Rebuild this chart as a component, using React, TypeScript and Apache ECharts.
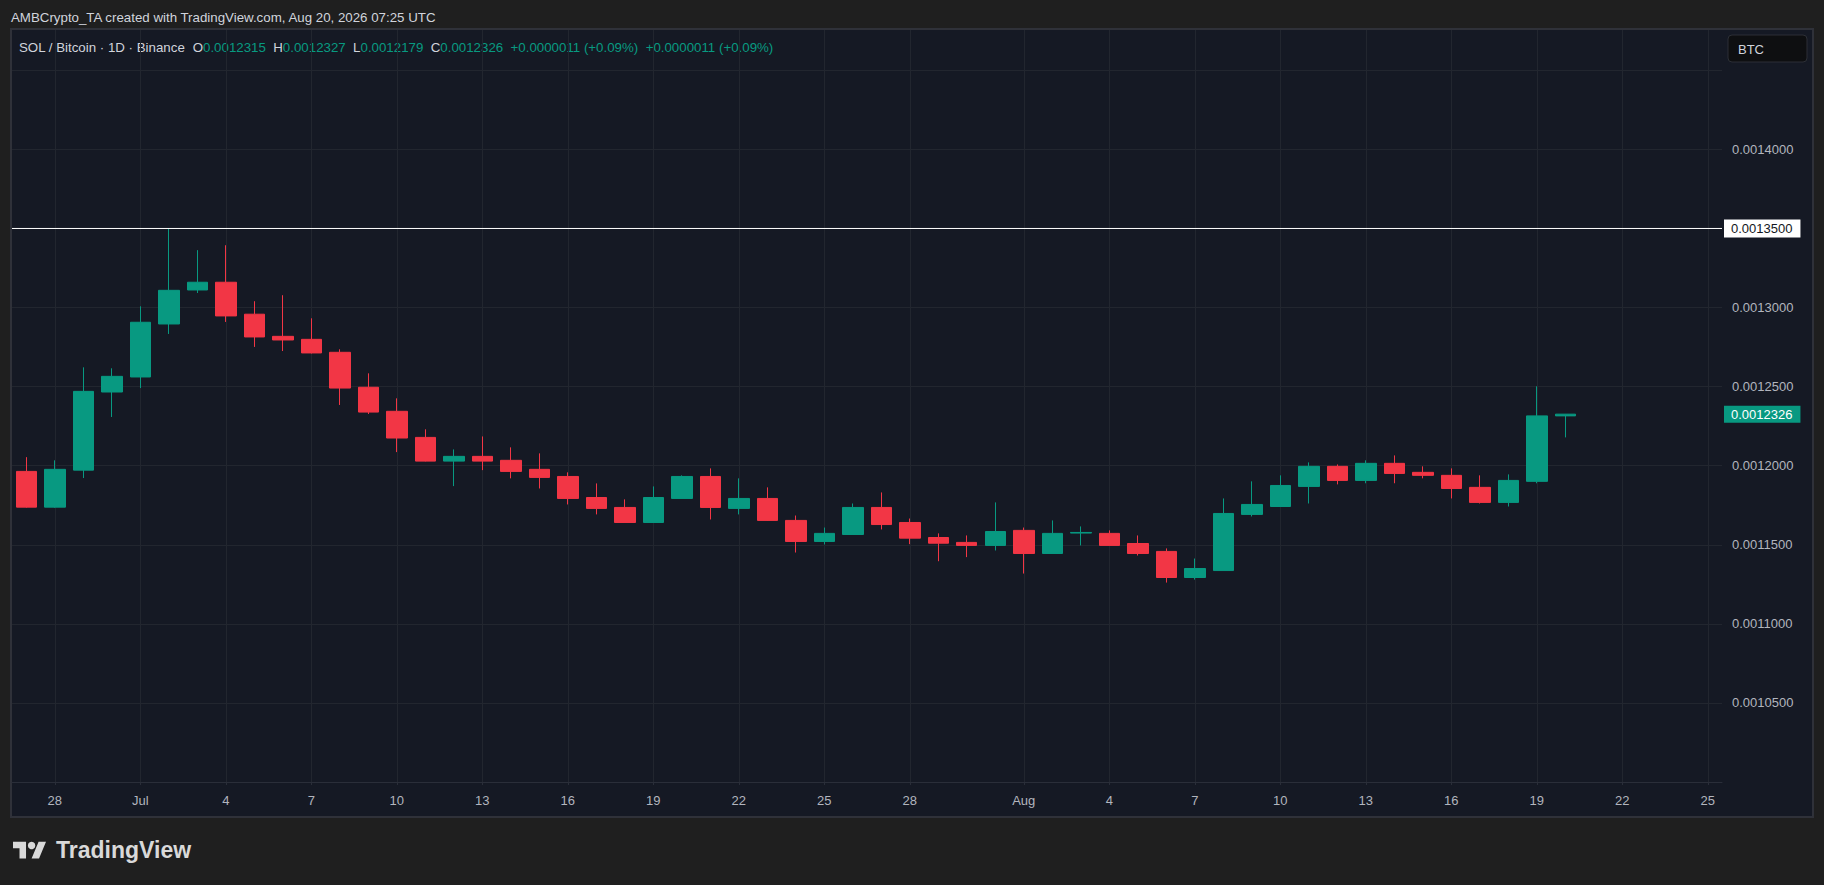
import React, { useEffect, useRef } from "react";
import * as echarts from "echarts";

// ---------- DATA ----------
const dates: string[] = [
  "2026-06-27", "2026-06-28", "2026-06-29", "2026-06-30",
  "2026-07-01", "2026-07-02", "2026-07-03", "2026-07-04", "2026-07-05", "2026-07-06", "2026-07-07",
  "2026-07-08", "2026-07-09", "2026-07-10", "2026-07-11", "2026-07-12", "2026-07-13", "2026-07-14",
  "2026-07-15", "2026-07-16", "2026-07-17", "2026-07-18", "2026-07-19", "2026-07-20", "2026-07-21",
  "2026-07-22", "2026-07-23", "2026-07-24", "2026-07-25", "2026-07-26", "2026-07-27", "2026-07-28",
  "2026-07-29", "2026-07-30", "2026-07-31",
  "2026-08-01", "2026-08-02", "2026-08-03", "2026-08-04", "2026-08-05", "2026-08-06", "2026-08-07",
  "2026-08-08", "2026-08-09", "2026-08-10", "2026-08-11", "2026-08-12", "2026-08-13", "2026-08-14",
  "2026-08-15", "2026-08-16", "2026-08-17", "2026-08-18", "2026-08-19", "2026-08-20", "2026-08-21",
  "2026-08-22", "2026-08-23", "2026-08-24", "2026-08-25",
];

const opens: number[] = [
  0.0011964, 0.0011738, 0.0011972, 0.0012466, 0.0012561, 0.0012896, 0.0013111, 0.001316, 0.0012958, 0.0012818,
  0.0012799, 0.0012717, 0.0012496, 0.0012344, 0.0012179, 0.0012029, 0.0012059, 0.0012034, 0.0011977, 0.0011932,
  0.0011799, 0.0011736, 0.0011641, 0.0011793, 0.0011932, 0.001173, 0.0011793, 0.0011654, 0.0011521, 0.0011565,
  0.0011736, 0.0011641, 0.0011546, 0.0011515, 0.0011496, 0.0011591, 0.0011445, 0.0011574, 0.0011572, 0.0011508,
  0.0011458, 0.0011293, 0.0011337, 0.0011692, 0.0011742, 0.0011869, 0.0011996, 0.0011907, 0.0012015, 0.0011958,
  0.0011939, 0.0011863, 0.0011768, 0.0011901, 0.0012315,
];
const closes: number[] = [
  0.0011738, 0.0011977, 0.001247, 0.0012565, 0.0012907, 0.0013109, 0.001316, 0.0012947, 0.0012814, 0.0012795,
  0.0012713, 0.0012491, 0.0012339, 0.0012175, 0.0012029, 0.0012059, 0.0012029, 0.0011964, 0.0011926, 0.0011793,
  0.001173, 0.0011641, 0.0011799, 0.0011932, 0.0011736, 0.0011793, 0.0011654, 0.0011521, 0.0011572, 0.0011736,
  0.0011628, 0.0011542, 0.001151, 0.0011496, 0.0011584, 0.0011445, 0.0011572, 0.0011578, 0.0011496, 0.0011445,
  0.0011293, 0.001135, 0.0011698, 0.0011755, 0.0011875, 0.0011996, 0.0011907, 0.0012015, 0.0011951, 0.0011939,
  0.0011856, 0.0011768, 0.0011907, 0.0012315, 0.0012326,
];
const lows: number[] = [
  0.0011735, 0.0011734, 0.0011922, 0.0012308, 0.0012491, 0.0012833, 0.0013092, 0.0012909, 0.0012751, 0.0012725,
  0.001271, 0.0012384, 0.0012327, 0.0012086, 0.0012027, 0.0011871, 0.0011972, 0.001192, 0.0011856, 0.0011755,
  0.0011692, 0.001164, 0.001164, 0.0011792, 0.001166, 0.0011692, 0.0011652, 0.0011451, 0.0011502, 0.0011564,
  0.0011597, 0.0011504, 0.0011396, 0.0011422, 0.0011464, 0.0011318, 0.0011444, 0.0011496, 0.0011495, 0.0011432,
  0.0011261, 0.001128, 0.0011336, 0.0011679, 0.0011741, 0.0011761, 0.0011882, 0.0011889, 0.0011889, 0.001192,
  0.0011793, 0.0011761, 0.0011742, 0.0011889, 0.0012179,
];
const highs: number[] = [
  0.0012054, 0.0012034, 0.0012622, 0.0012616, 0.0013008, 0.00135, 0.0013363, 0.0013394, 0.001304, 0.0013078,
  0.0012932, 0.0012736, 0.0012584, 0.0012426, 0.001223, 0.0012103, 0.0012185, 0.0012116, 0.0012078, 0.0011958,
  0.0011888, 0.0011787, 0.0011869, 0.0011939, 0.0011983, 0.001192, 0.0011863, 0.0011685, 0.0011609, 0.0011761,
  0.0011831, 0.0011666, 0.0011572, 0.0011559, 0.0011768, 0.0011609, 0.0011654, 0.0011616, 0.0011591, 0.0011559,
  0.0011477, 0.0011413, 0.0011793, 0.0011901, 0.0011939, 0.0012021, 0.0012008, 0.0012034, 0.0012065, 0.0011996,
  0.0011983, 0.0011939, 0.0011945, 0.0012502, 0.0012327,
];

const priceTickLabels: string[] = [
  "0.0010500", "0.0011000", "0.0011500", "0.0012000", "0.0012500", "0.0013000", "0.0013500", "0.0014000",
];
const resistanceLevel = 0.00135;
const monthNames = ["Jan", "Feb", "Mar", "Apr", "May", "Jun", "Jul", "Aug", "Sep", "Oct", "Nov", "Dec"];
const headerText = "AMBCrypto_TA created with TradingView.com, Aug 20, 2026 07:25 UTC";
const symbolText = "SOL / Bitcoin · 1D · Binance";

// ---------- STYLE ----------
const GREEN = "#089981";
const RED = "#f23645";
const FONT = "'Liberation Sans', Arial, sans-serif";

let logoRegistered = false;
function registerLogo() {
  if (logoRegistered) return;
  echarts.graphic.registerShape(
    "tvlogo",
    echarts.graphic.extendPath("M14 22H7V11H0V4h14v18zM28 22h-8l7.5-18h8L28 22z", {}) as any
  );
  logoRegistered = true;
}

function dayOf(d: string): number {
  return Number(d.slice(8, 10));
}
function isLabelDate(d: string): boolean {
  if (!d || d.charAt(0) === "~") return false;
  const day = dayOf(d);
  return day !== 31 && (day - 1) % 3 === 0;
}
function dateLabel(d: string): string {
  if (!isLabelDate(d)) return "";
  const day = dayOf(d);
  return day === 1 ? monthNames[Number(d.slice(5, 7)) - 1] : String(day);
}

export default function App() {
  const ref = useRef<HTMLDivElement>(null);

  useEffect(() => {
    if (!ref.current) return;
    registerLogo();
    const chart = echarts.init(ref.current, undefined, { renderer: "svg" });

    const candleData = opens.map((o, i) => [o, closes[i], lows[i], highs[i]]);
    // half-step axis so that grid lines / labels fall at candle centres
    const halfAxis: string[] = [];
    for (let k = 0; k <= dates.length * 2; k++) {
      halfAxis.push(k % 2 === 1 ? dates[(k - 1) / 2] : "~" + k);
    }
    const firstCat = halfAxis[0];
    const lastCat = halfAxis[halfAxis.length - 1];
    const n = closes.length;
    const lastO = opens[n - 1];
    const lastH = highs[n - 1];
    const lastL = lows[n - 1];
    const lastC = closes[n - 1];
    const prevC = closes[n - 2];
    const chg = lastC - prevC;
    const chgStr = (chg >= 0 ? "+" : "-") + Math.abs(chg).toFixed(7);
    const pctStr = (chg >= 0 ? "+" : "-") + Math.abs((chg / prevC) * 100).toFixed(2) + "%";
    const f7 = (v: number) => v.toFixed(7);

    const legendStr =
      `{t|${symbolText}}  {t|O}{v|${f7(lastO)}}  {t|H}{v|${f7(lastH)}}  {t|L}{v|${f7(lastL)}}  {t|C}{v|${f7(lastC)}}  ` +
      `{v|${chgStr} (${pctStr})}  {v|${chgStr} (${pctStr})}`;

    const intervalFn = (_idx: number, value: string) => isLabelDate(value);
    const HFS = 13.3;

    const option: any = {
      animation: false,
      backgroundColor: "#1f1f1f",
      textStyle: { fontFamily: FONT },
      grid: { left: 12, right: 102, top: 30, bottom: 103, containLabel: false },
      xAxis: [
        {
          type: "category",
          data: dates,
          boundaryGap: true,
          show: false,
        },
        {
          type: "category",
          data: halfAxis,
          boundaryGap: false,
          position: "bottom",
          axisLine: { show: true, onZero: false, lineStyle: { color: "#2a2e39", width: 1 } },
          axisTick: { show: true, length: 3, interval: intervalFn, lineStyle: { color: "#2a2e39" } },
          axisLabel: {
            interval: intervalFn,
            formatter: (v: string) => dateLabel(v),
            color: "#b2b5be",
            fontSize: 13,
            margin: 12,
            fontFamily: FONT,
          },
          splitLine: { show: true, interval: intervalFn, lineStyle: { color: "#22262f", width: 1 } },
        },
      ],
      yAxis: {
        type: "value",
        position: "right",
        min: 0.001,
        max: 0.0014755,
        interval: 0.00005,
        axisLine: { show: false },
        axisTick: { show: false },
        axisLabel: {
          margin: 10,
          color: "#b2b5be",
          fontSize: 13,
          fontFamily: FONT,
          showMaxLabel: false,
          showMinLabel: false,
          formatter: (v: number) => {
            const s = Number(v).toFixed(7);
            return priceTickLabels.indexOf(s) >= 0 ? s : "";
          },
        },
        splitLine: { show: true, showMaxLine: false, lineStyle: { color: "#22262f", width: 1 } },
      },
      series: [
        {
          type: "candlestick",
          xAxisIndex: 0,
          data: candleData,
          barWidth: 21,
          itemStyle: {
            color: GREEN,
            color0: RED,
            borderColor: GREEN,
            borderColor0: RED,
            borderWidth: 1,
          },
        },
        {
          type: "line",
          name: "resistance",
          xAxisIndex: 1,
          z: 5,
          silent: true,
          symbol: "none",
          data: [
            [firstCat, resistanceLevel],
            [lastCat, resistanceLevel],
          ],
          lineStyle: { color: "#ffffff", width: 1, type: "solid" },
          endLabel: {
            show: true,
            distance: 2,
            formatter: () => resistanceLevel.toFixed(7),
            backgroundColor: "#ffffff",
            color: "#131722",
            fontSize: 13,
            fontFamily: FONT,
            padding: [3, 8, 2, 7],
          },
        },
        {
          type: "line",
          name: "last",
          xAxisIndex: 1,
          z: 5,
          silent: true,
          symbol: "none",
          data: [
            [firstCat, lastC],
            [lastCat, lastC],
          ],
          lineStyle: { color: "rgba(0,0,0,0)", width: 1 },
          endLabel: {
            show: true,
            distance: 2,
            formatter: () => lastC.toFixed(7),
            backgroundColor: GREEN,
            color: "#ffffff",
            fontSize: 13,
            fontFamily: FONT,
            padding: [2, 8, 2, 7],
          },
        },
      ],
      graphic: [
        {
          type: "rect",
          z: -100,
          silent: true,
          shape: { x: 11, y: 29, width: 1802, height: 788 },
          style: { fill: "#151924", stroke: "#2f3139", lineWidth: 2 },
        },
        {
          type: "text",
          silent: true,
          x: 11,
          y: 17,
          style: {
            text: headerText,
            fill: "#d1d4dc",
            fontSize: HFS,
            fontFamily: FONT,
            verticalAlign: "middle",
          },
        },
        {
          type: "text",
          silent: true,
          x: 19,
          y: 47,
          style: {
            text: legendStr,
            fill: "#d1d4dc",
            fontSize: HFS,
            fontFamily: FONT,
            verticalAlign: "middle",
            rich: {
              t: { fill: "#d1d4dc", fontSize: HFS, fontFamily: FONT },
              v: { fill: GREEN, fontSize: HFS, fontFamily: FONT },
            },
          },
        },
        {
          type: "rect",
          silent: true,
          shape: { x: 1728, y: 35, width: 79, height: 27, r: 4 },
          style: { fill: "#0e0f11", stroke: "#2c2f36", lineWidth: 1 },
        },
        {
          type: "text",
          silent: true,
          x: 1738,
          y: 49,
          style: { text: "BTC", fill: "#d1d4dc", fontSize: 13, fontFamily: FONT, verticalAlign: "middle" },
        },
        {
          type: "tvlogo",
          silent: true,
          x: 13,
          y: 838,
          scaleX: 0.93,
          scaleY: 0.93,
          style: { fill: "#d9d9d9" },
        },
        {
          type: "circle",
          silent: true,
          shape: { cx: 13 + 20 * 0.93, cy: 838 + 8 * 0.93, r: 4 * 0.93 },
          style: { fill: "#d9d9d9" },
        },
        {
          type: "text",
          silent: true,
          x: 56,
          y: 850,
          style: {
            text: "TradingView",
            fill: "#d9d9d9",
            fontSize: 23,
            fontWeight: "bold",
            fontFamily: FONT,
            verticalAlign: "middle",
          },
        },
      ],
    };

    chart.setOption(option);
    return () => {
      chart.dispose();
    };
  }, []);

  return (
    <div
      ref={ref}
      style={{ position: "fixed", left: 0, top: 0, width: 1824, height: 885 }}
    />
  );
}
